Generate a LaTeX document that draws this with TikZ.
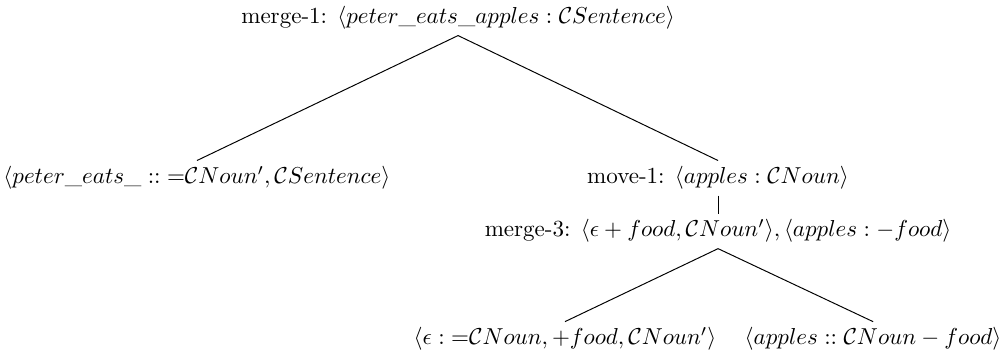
\documentclass[tikz,border=0pt]{standalone}
\usepackage{amsmath,amssymb}
\usetikzlibrary{positioning}

\begin{document}
\begin{tikzpicture}[
      on grid,
      deriv/.style={inner sep=2.4pt, align=center, scale=1.06},
      edge/.style={line width=0.45pt, color=black}
    ]
      \useasboundingbox (-210.7pt,8.3pt) rectangle (250.2pt,-153.6pt);
      \node[deriv] (merge1) {merge-1: $\langle peter\_eats\_apples : \mathcal{C}Sentence\rangle$};
      \node[deriv, below left=73.6pt and 120.1pt of merge1] (peter) {$\langle peter\_eats\_ \mathrel{::} {=}\mathcal{C}Noun', \mathcal{C}Sentence\rangle$};
      \node[deriv, below right=73.6pt and 119.6pt of merge1] (move1) {move-1: $\langle apples : \mathcal{C}Noun\rangle$};
      \node[deriv, below=24.4pt of move1] (merge3) {merge-3: $\langle\epsilon + food, \mathcal{C}Noun'\rangle, \langle apples : -food\rangle$};
      \node[deriv, below left=49.7pt and 70.4pt of merge3] (eps) {$\langle\epsilon : {=}\mathcal{C}Noun, {+}food, \mathcal{C}Noun'\rangle$};
      \node[deriv, below right=49.7pt and 71.3pt of merge3] (apples) {$\langle apples \mathrel{::} \mathcal{C}Noun - food\rangle$};
      \draw[edge] (merge1.south) -- (peter.north);
      \draw[edge] (merge1.south) -- (move1.north);
      \draw[edge] (move1.south) -- (merge3.north);
      \draw[edge] (merge3.south) -- (eps.north);
      \draw[edge] (merge3.south) -- (apples.north);
    \end{tikzpicture}
\end{document}
